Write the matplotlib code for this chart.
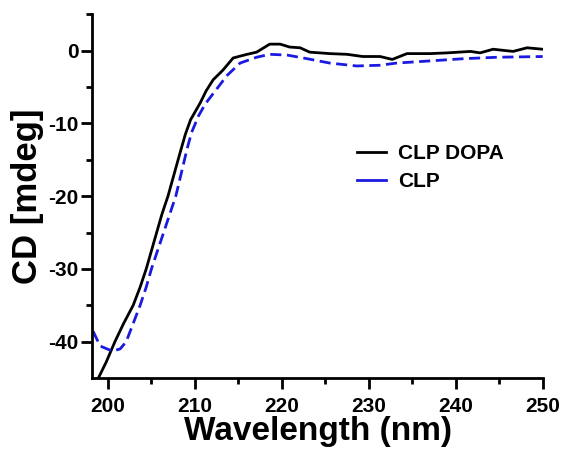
import matplotlib
matplotlib.use("Agg")
import matplotlib.pyplot as plt
from matplotlib.lines import Line2D

plt.rcParams["font.family"] = ["Liberation Sans", "DejaVu Sans"]
plt.rcParams["axes.unicode_minus"] = False

# CLP DOPA (black, solid)
wl_dopa = [198.9, 199.8, 200.8, 201.8, 202.9, 203.7, 204.4, 205.0, 205.6, 206.2,
           206.9, 207.6, 208.3, 208.9, 209.5, 210.6, 211.3, 212.1, 213.2, 214.4,
           216.0, 217.1, 218.6, 219.8, 220.9, 222.1, 223.2, 225.5, 227.5, 229.3,
           231.3, 232.7, 234.4, 237.1, 239.0, 241.7, 242.8, 244.3, 246.6, 248.2, 250.0]
cd_dopa = [-45.0, -42.8, -40.0, -37.5, -35.0, -32.5, -30.0, -27.5, -25.0, -22.5,
           -20.0, -17.0, -14.0, -11.5, -9.5, -7.2, -5.5, -4.0, -2.7, -1.0,
           -0.5, -0.2, 0.9, 0.9, 0.5, 0.4, -0.2, -0.4, -0.5, -0.8,
           -0.8, -1.2, -0.4, -0.4, -0.3, -0.1, -0.3, 0.2, -0.1, 0.4, 0.2]

# CLP (blue, dashed)
wl_clp = [198.3, 199.1, 200.5, 201.4, 202.1, 202.9, 203.7, 204.4, 205.0, 205.7,
          206.4, 207.1, 207.8, 208.4, 209.1, 209.6, 210.4, 211.2, 212.1, 213.7,
          215.2, 217.1, 218.6, 220.6, 222.9, 225.5, 228.6, 231.3, 233.2, 237.1,
          240.9, 244.8, 250.0]
cd_clp = [-38.6, -40.6, -41.3, -41.0, -40.0, -37.5, -35.0, -32.5, -30.0, -27.5,
          -25.0, -22.5, -20.0, -17.0, -13.5, -11.3, -9.0, -7.3, -5.9, -3.4,
          -1.7, -0.9, -0.5, -0.6, -1.1, -1.7, -2.1, -2.0, -1.7, -1.4,
          -1.1, -0.9, -0.8]

labels = ["CLP DOPA", "CLP"]
xticks = [200, 210, 220, 230, 240, 250]
yticks = [0, -10, -20, -30, -40]

blue = "#1a1ae0"

fig = plt.figure(figsize=(5.65, 4.49), dpi=100)
ax = fig.add_axes([0.1634, 0.1581, 0.7971, 0.8100])

ax.plot(wl_dopa, cd_dopa, color="black", lw=2.0, solid_joinstyle="round")
ax.plot(wl_clp, cd_clp, color=blue, lw=2.0, dashes=(4, 2))

ax.set_xlim(198.2, 250)
ax.set_ylim(-45, 5)
ax.set_xticks(xticks)
ax.set_yticks(yticks)
ax.set_xticks([205, 215, 225, 235, 245], minor=True)
ax.set_yticks([-35, -25, -15, -5, 5], minor=True)

for s in ["top", "right"]:
    ax.spines[s].set_visible(False)
for s in ["left", "bottom"]:
    ax.spines[s].set_linewidth(2.0)

ax.tick_params(which="major", direction="out", length=8, width=2.0,
               labelsize=15)
ax.tick_params(axis="x", which="major", pad=6)
ax.tick_params(axis="y", which="major", pad=2)
ax.tick_params(which="minor", direction="out", length=4, width=2.0)
for lab in ax.get_xticklabels() + ax.get_yticklabels():
    lab.set_fontweight("bold")

ax.set_xlabel("Wavelength (nm)", fontsize=24, fontweight="bold", labelpad=0)
ax.set_ylabel("CD [mdeg]", fontsize=25, fontweight="bold", labelpad=3)

handles = [Line2D([], [], color="black", lw=2.0),
           Line2D([], [], color=blue, lw=2.0)]
leg = ax.legend(handles, labels, loc="upper left", bbox_to_anchor=(0.545, 0.695),
                frameon=False, prop={"size": 15, "weight": "bold"},
                handlelength=1.4, handletextpad=0.6, labelspacing=0.45)

fig.savefig("out.png", dpi=100)
